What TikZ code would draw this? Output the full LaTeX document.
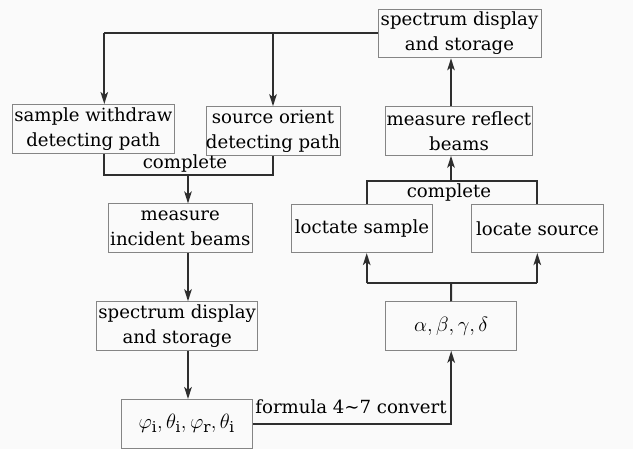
\documentclass[tikz,border=0pt]{standalone}
\usepackage{fontspec}
\setmainfont{DejaVu Serif}
\usetikzlibrary{arrows.meta}
\definecolor{boxgray}{HTML}{858585}
\definecolor{conngray}{HTML}{2E2E2E}
\definecolor{bgcol}{HTML}{FAFAFA}
\newcommand\boxfont{\fontsize{18.2}{25}\selectfont}
\newcommand\mathboxfont{\fontsize{21.5}{25}\selectfont}
\begin{document}
\begin{tikzpicture}[x=1bp,y=-1bp,
  box/.style={draw=boxgray,line width=0.9bp,inner sep=0,align=center,font=\boxfont,minimum height=48.6bp},
  mbox/.style={box,font=\mathboxfont},
  conn/.style={draw=conngray,line width=2bp},
  arr/.style={conn,-{Stealth[length=12bp,width=7.5bp,inset=3bp]}},
  lbl/.style={font=\boxfont,inner sep=0}]
\fill[bgcol] (0,0) rectangle (633,449);
\useasboundingbox (0,0) rectangle (633,449);

% boxes
\node[box,minimum width=163bp] (top) at (459.5,33.5) {spectrum display\\and storage};
\node[box,minimum width=147bp] (rb) at (459,131) {measure reflect\\beams};
\node[box,minimum width=162bp] (sw) at (93.3,128.8) {sample withdraw\\detecting path};
\node[box,minimum width=130.6bp] (so) at (273,131) {source orient\\detecting path};
\node[box,minimum width=144bp] (inc) at (180.3,228.2) {measure\\incident beams};
\node[box,minimum width=161bp] (spl) at (177.2,326) {spectrum display\\and storage};
\node[mbox,minimum width=131.3bp] (phi) at (186.7,423.8) {$\varphi_{\mathrm{i}}, \theta_{\mathrm{i}}, \varphi_{\mathrm{r}}, \theta_{\mathrm{i}}$};
\node[mbox,minimum width=131bp] (abc) at (451.2,326) {$\alpha, \beta, \gamma, \delta$};
\node[box,minimum width=140.6bp] (ls) at (362,228.3) {loctate sample};
\node[box,minimum width=131.6bp] (lsrc) at (537.5,228.3) {locate source};

% labels
\node[lbl] (c1) at (185,163) {complete};
\node[lbl] (c2) at (449,192) {complete};
\node[lbl] (fl) at (351,407) {formula 4\textasciitilde7 convert};

% coordinates
\coordinate (tl) at (104.3,33.3);
\coordinate (cb) at (188,174.7);
\coordinate (ab) at (451,283.3);
\coordinate (lsx) at (366.7,283.3);
\coordinate (lrx) at (537.3,283.3);
\coordinate (rt) at (451,181);

% top distribution
\draw[conn] (top.west |- tl) -- (tl);
\draw[arr] (tl) -- (tl |- sw.north);
\draw[arr] (so.north |- tl) -- (so.north);

% left complete bracket
\draw[conn] (tl |- sw.south) -- (tl |- cb) -- (cb -| so.south) -- (so.south);
\draw[arr] (cb) -- (cb |- inc.north);
\draw[arr] (cb |- inc.south) -- (cb |- spl.north);
\draw[arr] (cb |- spl.south) -- (cb |- phi.north);

% formula convert
\draw[arr] (phi.east) -| (abc.south);

% alpha to locate
\draw[conn] (abc.north) -- (ab);
\draw[conn] (lsx) -- (lrx);
\draw[arr] (lsx) -- (lsx |- ls.south);
\draw[arr] (lrx) -- (lrx |- lsrc.south);

% right complete bracket
\draw[conn] (lsx |- ls.north) -- (lsx |- rt) -- (lrx |- rt) -- (lrx |- lsrc.north);
\draw[arr] (rt) -- (rt |- rb.south);
\draw[arr] (rt |- rb.north) -- (rt |- top.south);
\end{tikzpicture}
\end{document}
